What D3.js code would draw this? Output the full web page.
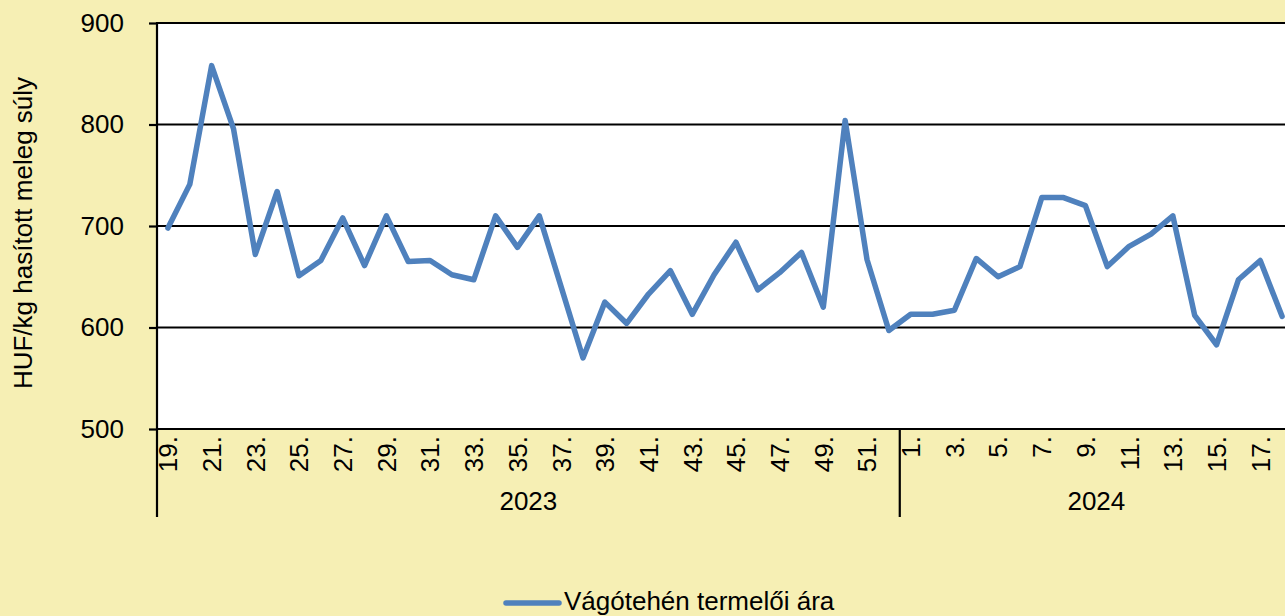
<!DOCTYPE html>
<html>
<head>
<meta charset="utf-8">
<script src="https://cdn.jsdelivr.net/npm/d3@7"></script>
<style>
body{margin:0;background:#f6efb4;}
svg{display:block;font-family:"Liberation Sans",Arial,sans-serif;}
</style>
</head>
<body>
<div id="chart"></div>
<script>
// weeks and prices (HUF/kg)
var weeks2023 = [19,20,21,22,23,24,25,26,27,28,29,30,31,32,33,34,35,36,37,38,39,40,41,42,43,44,45,46,47,48,49,50,51,52];
var weeks2024 = [1,2,3,4,5,6,7,8,9,10,11,12,13,14,15,16,17,18];
var prices2023 = [698,741,858,796,672,734,651,666,708,661,710,665,666,652,647,710,679,710,640,570,625,604,633,656,613,652,684,637,654,674,620,804,667,597];
var prices2024 = [613,613,617,668,650,660,728,728,720,660,680,692,710,612,583,647,666,611];
var years = ["2023","2024"];
var yTicks = [500,600,700,800,900];
var seriesName = "Vágótehén termelői ára";

var width = 1285,
    height = 616,
    pLeft = 157, pRight = 1293,
    pTop = 23, pBottom = 429,
    fs = "26px";

var data = [];
weeks2023.forEach(function(w,i){ data.push({key:"2023-"+w, year:"2023", week:w, v:prices2023[i]}); });
weeks2024.forEach(function(w,i){ data.push({key:"2024-"+w, year:"2024", week:w, v:prices2024[i]}); });

var x = d3.scaleBand().domain(data.map(function(d){return d.key;})).range([pLeft,pRight]);
var y = d3.scaleLinear().domain([500,900]).range([pBottom,pTop]);

var svg = d3.select("#chart").append("svg")
    .attr("width", width)
    .attr("height", height);

svg.append("rect")
    .attr("width",width).attr("height",height)
    .attr("fill","#f6efb4");

// plot area
svg.append("rect")
    .attr("x",pLeft).attr("y",pTop)
    .attr("width",pRight-pLeft).attr("height",pBottom-pTop)
    .attr("fill","#fff");

// gridlines
svg.selectAll(".grid")
    .data(yTicks)
  .enter().append("line")
    .attr("x1",pLeft).attr("x2",pRight)
    .attr("y1",function(d){return y(d);})
    .attr("y2",function(d){return y(d);})
    .attr("stroke","#000")
    .attr("stroke-width",2.2);

// y axis
var yAxis = svg.append("g")
    .attr("transform","translate("+pLeft+",0)")
    .call(d3.axisLeft(y).tickValues(yTicks).tickSize(8).tickPadding(25));
yAxis.select(".domain").remove();
yAxis.selectAll("line").attr("stroke","#000").attr("stroke-width",2.2);
yAxis.selectAll("text").attr("font-size",fs).attr("fill","#000").attr("font-family","Liberation Sans, Arial, sans-serif");

svg.append("line")
    .attr("x1",pLeft).attr("x2",pLeft)
    .attr("y1",pTop-1).attr("y2",517)
    .attr("stroke","#000").attr("stroke-width",2.2);

// y title
svg.append("text")
    .attr("transform","translate(32,233) rotate(-90)")
    .attr("text-anchor","middle")
    .attr("font-size",fs)
    .text("HUF/kg hasított meleg súly");

// x axis week labels
var oddKeys = data.filter(function(d){return d.week%2==1;}).map(function(d){return d.key;});
var xAxis = svg.append("g")
    .attr("transform","translate(0,"+pBottom+")")
    .call(d3.axisBottom(x).tickValues(oddKeys).tickSize(0)
        .tickFormat(function(k){return k.split("-")[1]+".";}));
xAxis.select(".domain").remove();
xAxis.selectAll("text")
    .attr("font-size",fs)
    .attr("fill","#000")
    .attr("font-family","Liberation Sans, Arial, sans-serif")
    .attr("text-anchor","end")
    .attr("transform","rotate(-90)")
    .attr("x",-7)
    .attr("y",0)
    .attr("dy","0.36em");

// year separator
var sepX = x("2024-1");
svg.append("line")
    .attr("x1",sepX).attr("x2",sepX)
    .attr("y1",pBottom).attr("y2",517)
    .attr("stroke","#000").attr("stroke-width",2.2);

// year labels
years.forEach(function(yr){
    var keys = data.filter(function(d){return d.year==yr;});
    var x0 = x(keys[0].key), x1 = x(keys[keys.length-1].key)+x.bandwidth();
    svg.append("text")
        .attr("x",(x0+x1)/2)
        .attr("y",510)
        .attr("text-anchor","middle")
        .attr("font-size",fs)
        .text(yr);
});

// line
var line = d3.line()
    .x(function(d){return x(d.key)+x.bandwidth()/2;})
    .y(function(d){return y(d.v);});
svg.append("path")
    .datum(data)
    .attr("d",line)
    .attr("fill","none")
    .attr("stroke","#4f81bd")
    .attr("stroke-width",5.5)
    .attr("stroke-linejoin","round")
    .attr("stroke-linecap","round");

// legend
svg.append("line")
    .attr("x1",506).attr("x2",559)
    .attr("y1",603).attr("y2",603)
    .attr("stroke","#4f81bd")
    .attr("stroke-width",5.5)
    .attr("stroke-linecap","round");
svg.append("text")
    .attr("x",564).attr("y",610)
    .attr("font-size",fs)
    .text(seriesName);
</script>
</body>
</html>
